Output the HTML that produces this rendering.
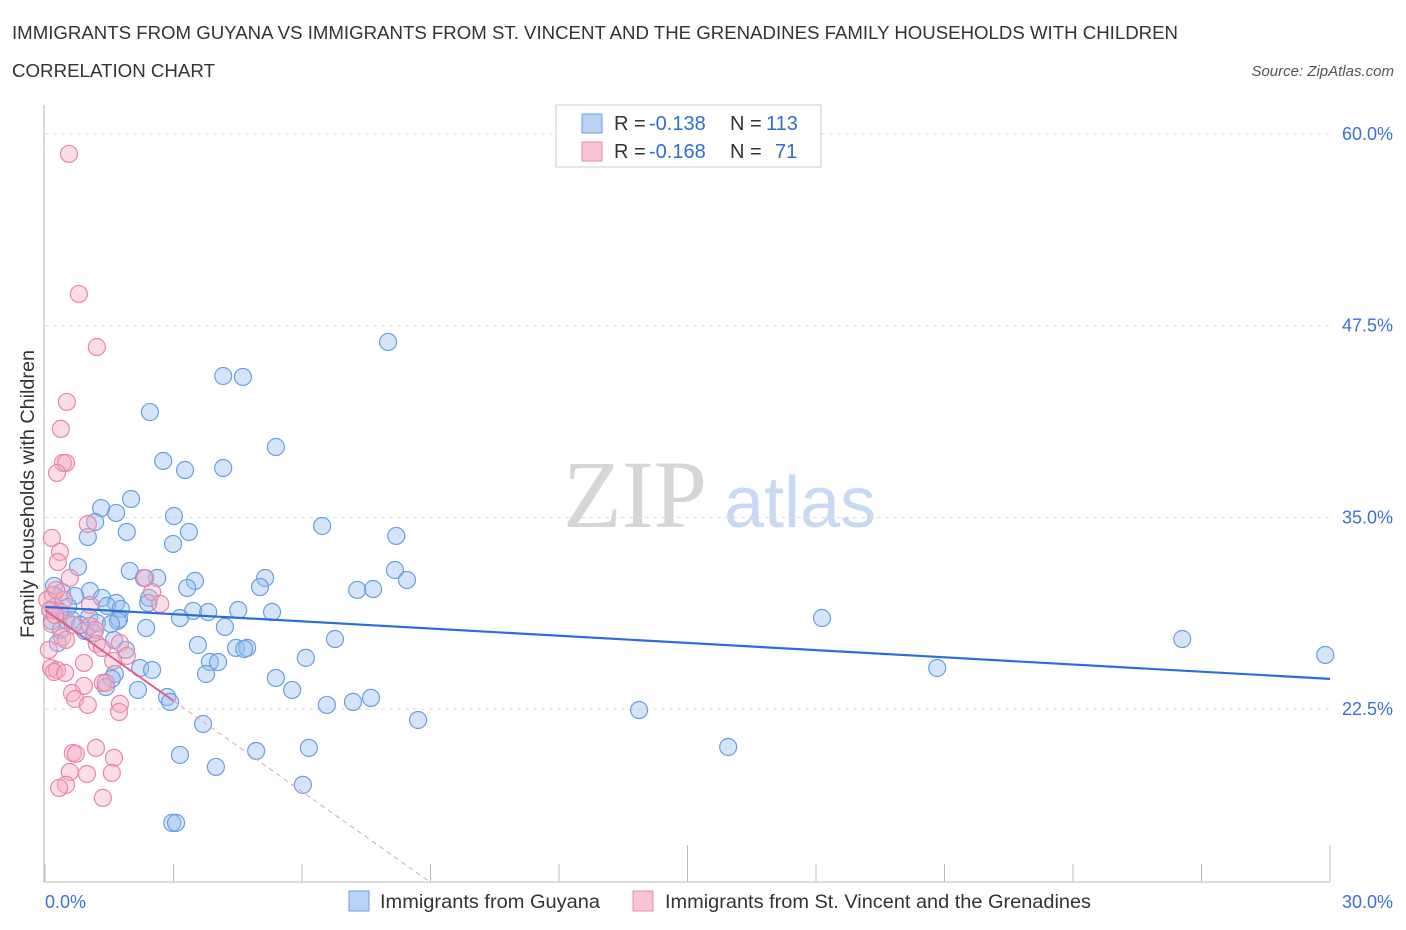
<!DOCTYPE html>
<html><head><meta charset="utf-8"><style>
body{margin:0;background:#fff;font-family:"Liberation Sans",sans-serif}
</style></head><body>
<svg id="c" width="1406" height="930" xmlns="http://www.w3.org/2000/svg" style="display:block">
<text x="12" y="39" font-size="18" fill="#333" textLength="1166" lengthAdjust="spacingAndGlyphs">IMMIGRANTS FROM GUYANA VS IMMIGRANTS FROM ST. VINCENT AND THE GRENADINES FAMILY HOUSEHOLDS WITH CHILDREN</text>
<text x="12" y="77" font-size="18" fill="#333" textLength="203" lengthAdjust="spacingAndGlyphs">CORRELATION CHART</text>
<text x="1394" y="76" font-size="15" fill="#555" font-style="italic" text-anchor="end">Source: ZipAtlas.com</text>
<g><text x="635" y="527" font-size="96" fill="#d6d6d6" font-family="Liberation Serif" text-anchor="middle">ZIP</text><text x="800" y="527" font-size="72" fill="#c8daf3" text-anchor="middle">atlas</text></g>
<text transform="translate(34,494) rotate(-90)" font-size="19" fill="#333" text-anchor="middle" textLength="288" lengthAdjust="spacingAndGlyphs">Family Households with Children</text>
<g id="grid"></g><g id="pts"></g><g id="lines"></g>
<g>
<rect x="556" y="105" width="265" height="62" fill="#fff" stroke="#ccc"/>
<rect x="582" y="114" width="20" height="19" fill="#b8d3f5" stroke="#6a9fe0"/>
<text x="614" y="130" font-size="20" fill="#333">R =</text><text x="649" y="130" font-size="20" fill="#2f6fd1">-0.138</text>
<text x="730" y="130" font-size="20" fill="#333">N =</text><text x="766" y="130" font-size="20" fill="#2f6fd1">113</text>
<rect x="582" y="142" width="20" height="19" fill="#f8c4d4" stroke="#e987a8"/>
<text x="614" y="158" font-size="20" fill="#333">R =</text><text x="649" y="158" font-size="20" fill="#2f6fd1">-0.168</text>
<text x="730" y="158" font-size="20" fill="#333">N =</text><text x="775" y="158" font-size="20" fill="#2f6fd1">71</text>
</g>
<g>
<rect x="349" y="891" width="20" height="20" fill="#b8d3f5" stroke="#6a9fe0"/>
<text x="380" y="908" font-size="19.5" fill="#333" textLength="220" lengthAdjust="spacingAndGlyphs">Immigrants from Guyana</text>
<rect x="633" y="891" width="20" height="20" fill="#f8c4d4" stroke="#e987a8"/>
<text x="665" y="908" font-size="19.5" fill="#333" textLength="426" lengthAdjust="spacingAndGlyphs">Immigrants from St. Vincent and the Grenadines</text>
</g>
</svg>
<script>
const yTicks=[60,47.5,35,22.5];
const xLabels=["0.0%","30.0%"];
const blueX=[8.01,4.16,4.62,2.45,5.39,2.76,3.27,4.16,2.01,1.31,1.66,1.17,3.01,6.47,1.00,1.91,3.36,8.20,2.99,0.77,1.98,2.62,2.31,8.17,8.45,5.14,3.50,3.32,5.02,7.29,7.66,0.21,0.40,1.05,0.70,1.33,1.66,2.43,2.41,1.45,1.77,0.23,0.54,0.12,4.51,5.30,3.46,3.81,3.15,1.73,1.70,1.03,0.49,0.16,0.63,18.14,2.36,4.20,0.37,0.93,1.14,6.77,3.57,1.61,26.55,4.46,4.72,1.89,4.65,0.30,6.09,29.89,3.85,4.04,2.22,2.50,1.63,20.83,3.76,5.39,1.56,1.42,5.77,2.17,2.85,2.92,7.19,7.61,6.58,13.87,8.71,3.69,15.95,6.16,4.93,3.15,3.99,6.02,2.97,3.06,1.21,1.54,0.82,0.35];
const blueY=[46.44,44.22,44.16,41.87,39.59,38.68,38.09,38.22,36.20,35.61,35.29,34.70,35.09,34.44,33.72,34.05,34.05,33.79,33.27,31.77,31.51,31.05,31.05,31.57,30.92,31.05,30.86,30.40,30.46,30.27,30.33,30.53,30.14,30.20,29.88,29.75,29.42,29.75,29.42,29.23,29.03,29.16,29.16,28.96,28.96,28.83,28.90,28.83,28.44,28.38,28.25,28.51,28.31,28.25,28.31,28.44,27.79,27.86,27.66,27.60,27.47,27.07,26.68,27.01,27.07,26.49,26.49,26.36,26.42,26.81,25.84,26.03,25.57,25.57,25.18,25.05,24.79,25.18,24.79,24.53,24.47,23.94,23.75,23.75,23.29,22.97,22.97,23.23,22.77,22.44,21.79,21.53,20.03,19.97,19.77,19.51,18.73,17.56,15.08,15.08,28.12,28.05,27.99,28.83];
const pinkX=[0.56,0.79,1.21,0.51,0.37,0.42,0.49,0.28,1.00,0.16,0.35,0.30,0.58,2.34,2.50,0.19,0.05,2.69,0.44,1.05,0.35,0.16,0.65,1.05,1.17,0.40,1.21,1.75,0.09,0.49,1.33,1.91,0.91,1.59,0.14,0.28,0.21,0.47,1.35,0.91,1.42,0.63,0.70,1.00,1.75,1.73,1.19,0.65,0.72,1.61,0.58,1.56,0.98,0.49,0.33,1.35,0.12,0.23,0.26];
const pinkY=[58.70,49.57,46.11,42.53,40.77,38.55,38.55,37.90,34.57,33.66,32.75,32.09,31.05,31.05,30.14,29.94,29.62,29.36,29.62,29.29,28.83,28.05,27.99,27.92,27.66,27.20,26.75,26.81,26.36,27.01,26.49,25.97,25.51,25.64,25.18,25.05,24.92,24.86,24.21,24.01,24.21,23.55,23.16,22.77,22.84,22.31,19.97,19.64,19.58,19.32,18.40,18.34,18.27,17.56,17.36,16.71,28.96,28.64,30.27];
const blueTrend=[29.16,24.47];
const pinkTrend=[28.96,11.2];
const pinkTrendEndX=9.0, pinkSolidEndX=3.0;
const NS="http://www.w3.org/2000/svg";
const X=v=>45+v/30*1285, Y=v=>134+(60-v)*15.336;
function mk(t,a,p){const e=document.createElementNS(NS,t);for(const k in a)e.setAttribute(k,a[k]);p.appendChild(e);return e;}
const g=document.getElementById('grid');
yTicks.forEach(t=>{
 const l=mk('line',{x1:45,x2:1330,y1:Y(t),y2:Y(t),stroke:'#ddd','stroke-dasharray':'4,4'},g);
 
 
 const tx=mk('text',{x:1393,y:Y(t)+6,'font-size':18,fill:'#3a72d6','text-anchor':'end'},g);tx.textContent=t.toFixed(1)+'%';
 
 
});
mk('line',{x1:44,x2:44,y1:105,y2:882,stroke:'#bbb'},g);
mk('line',{x1:44,x2:1330,y1:882,y2:882,stroke:'#bbb'},g);
for(let i=0;i<=10;i++){const x=X(i*3);mk('line',{x1:x,x2:x,y1:(i==5||i==10)?845:864,y2:882,stroke:'#bbb'},g);}
const t0=mk('text',{x:45,y:908,'font-size':18,fill:'#3a72d6'},g);t0.textContent=xLabels[0];


const t1=mk('text',{x:1393,y:908,'font-size':18,fill:'#3a72d6','text-anchor':'end'},g);t1.textContent=xLabels[1];


const p=document.getElementById('pts');
blueX.forEach((v,i)=>{const c=mk('circle',{cx:X(v),cy:Y(blueY[i]),r:8.5,fill:'rgba(150,190,240,0.4)',stroke:'#6a9fe0','stroke-width':1.2},p);
 
 });
pinkX.forEach((v,i)=>{const c=mk('circle',{cx:X(v),cy:Y(pinkY[i]),r:8.5,fill:'rgba(244,170,195,0.4)',stroke:'#e987a8','stroke-width':1.2},p);
 
 });
const L=document.getElementById('lines');
const bl=mk('line',{x1:X(0),y1:Y(blueTrend[0]),x2:X(30),y2:Y(blueTrend[1]),stroke:'#2a6fd6','stroke-width':2.2},L);


const pv=x=>pinkTrend[0]+(pinkTrend[1]-pinkTrend[0])*x/pinkTrendEndX;
const pl=mk('line',{x1:X(0),y1:Y(pv(0)),x2:X(pinkSolidEndX),y2:Y(pv(pinkSolidEndX)),stroke:'#e0608a','stroke-width':2},L);


const pd=mk('line',{x1:X(pinkSolidEndX),y1:Y(pv(pinkSolidEndX)),x2:X(pinkTrendEndX),y2:Y(pinkTrend[1]),stroke:'#e8a0b8','stroke-width':1,'stroke-dasharray':'5,4'},L);


</script>
</body></html>
